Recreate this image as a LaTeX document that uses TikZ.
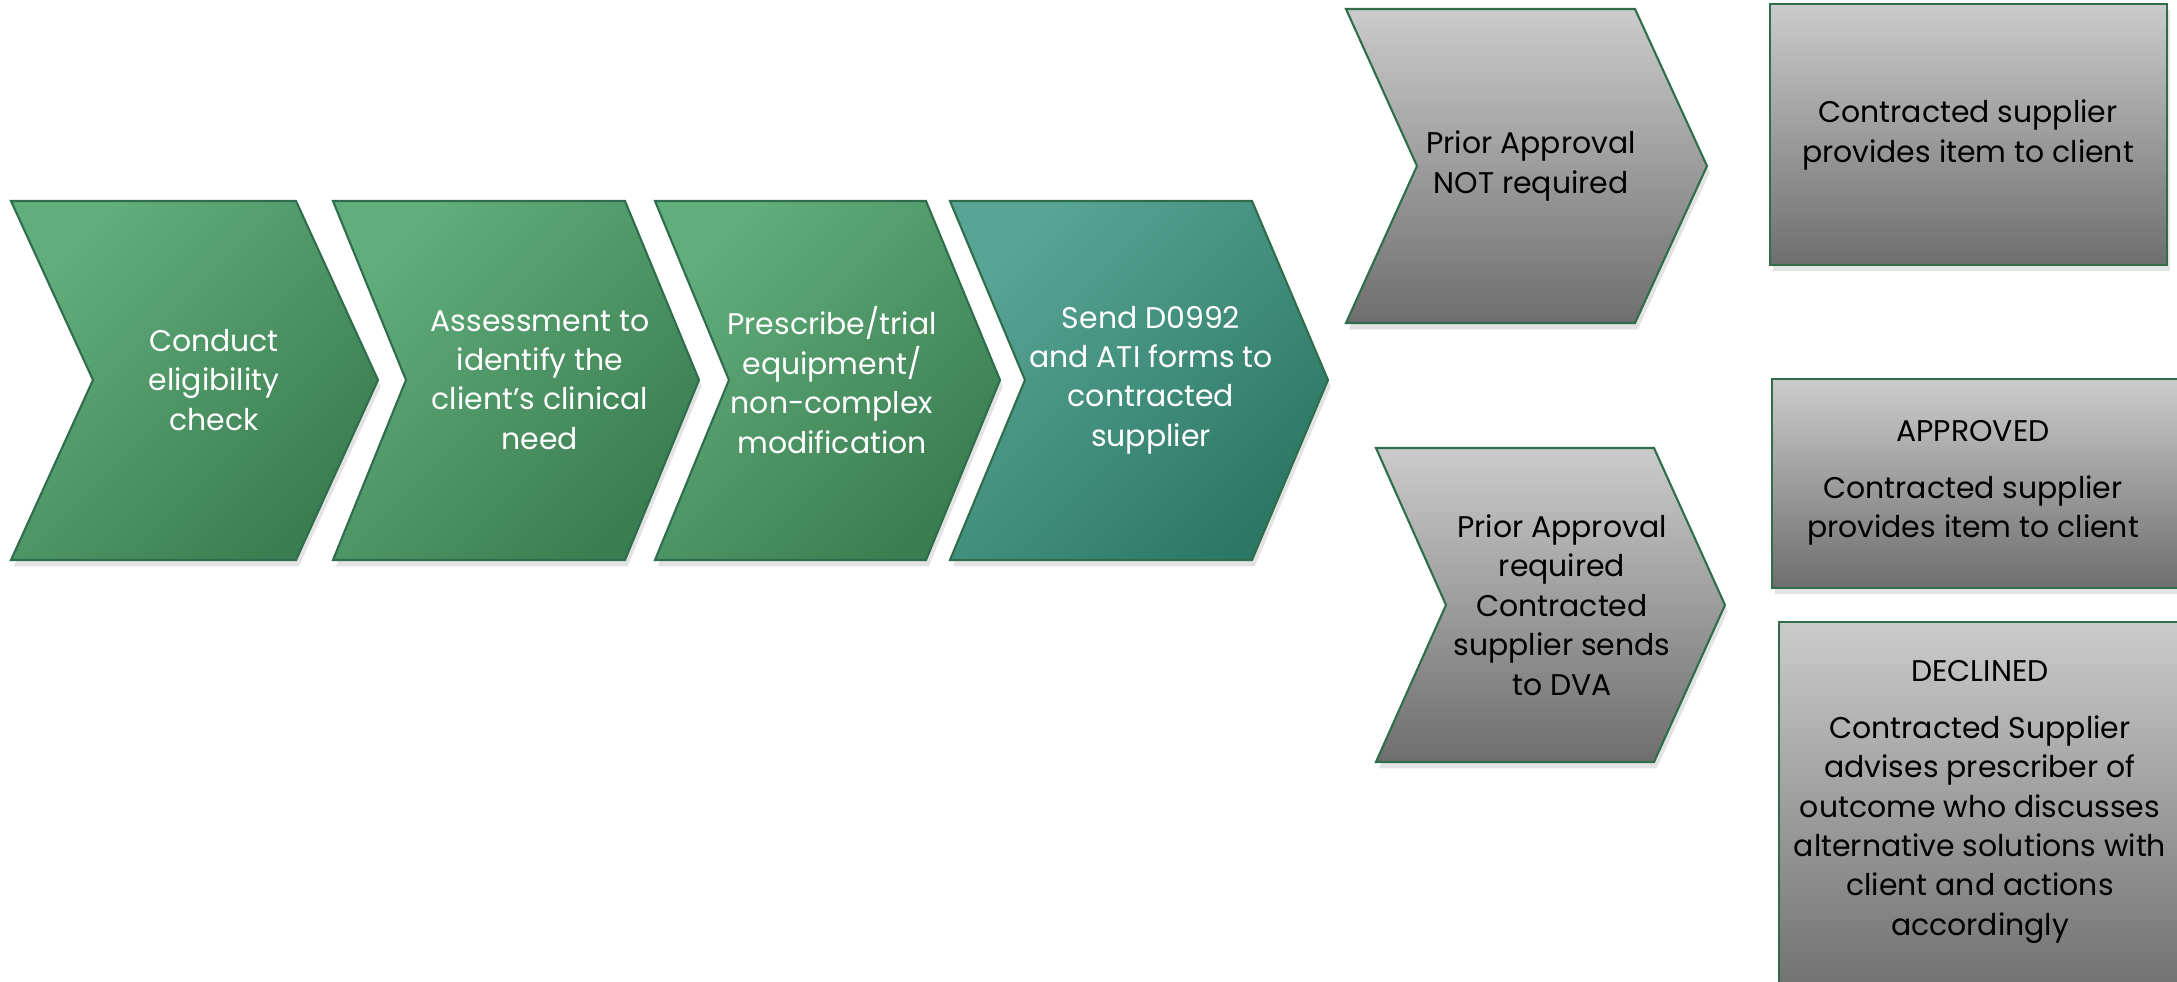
\documentclass[tikz,border=0pt]{standalone}
\usepackage{fontspec}
\setmainfont{Poppins}
\usetikzlibrary{shadows}

\definecolor{greenlight}{HTML}{62AD7C}
\definecolor{greendark}{HTML}{3A7D50}
\definecolor{teallight}{HTML}{58A596}
\definecolor{tealdark}{HTML}{2D7864}
\definecolor{greylight}{HTML}{CBCBCB}
\definecolor{greydark}{HTML}{6E6E6E}
\definecolor{edgegreen}{HTML}{2F6D4C}

\begin{document}
\begin{tikzpicture}[x=0.01cm, y=-0.01cm,
  shapebase/.style={draw=edgegreen, line width=0.6pt, drop shadow={shadow xshift=0.8pt, shadow yshift=-1.8pt, opacity=0.22}},
  greenchev/.style={shapebase, top color=greenlight, bottom color=greendark, shading angle=45},
  tealchev/.style={shapebase, top color=teallight, bottom color=tealdark, shading angle=45},
  greyshape/.style={shapebase, top color=greylight, bottom color=greydark},
  chevtext/.style={align=center, inner sep=0pt, font=\fontsize{8.5}{11.2}\selectfont},
  whitetext/.style={chevtext, text=white},
  darktext/.style={chevtext, text=black}]
\useasboundingbox (0,0) rectangle (2177,982);
% main flow
\path [greenchev] (11,201) -- (296,201) -- (378,380) -- (296,560) -- (11,560) -- (93,380) -- cycle;
\path [greenchev] (333,201) -- (625,201) -- (699,380) -- (625,560) -- (333,560) -- (406,380) -- cycle;
\path [greenchev] (655,201) -- (926,201) -- (1000,380) -- (926,560) -- (655,560) -- (729,380) -- cycle;
\path [tealchev] (950,201) -- (1252,201) -- (1328,380) -- (1252,560) -- (950,560) -- (1025,380) -- cycle;
\node [whitetext] (elig) at (214,380) {Conduct\\eligibility\\check};
\node [whitetext] (assess) at (540,380) {Assessment to\\identify the\\client’s clinical\\need};
\node [whitetext] (prescribe) at (832,380) {Prescribe/trial\\equipment/\\non-complex\\modification};
\node [whitetext] (send) at (1151,380) {Send D0992\\and ATI forms to\\contracted\\supplier};
% prior approval branches
\path [greyshape] (1346,9) -- (1635,9) -- (1707,166) -- (1635,323) -- (1346,323) -- (1417,166) -- cycle;
\path [greyshape] (1376,448) -- (1654,448) -- (1725,605) -- (1654,762) -- (1376,762) -- (1446,605) -- cycle;
\node [darktext] (notreq) at (1531,166) {Prior Approval\\NOT required};
\node [darktext] (req) at (1562,605) {Prior Approval\\required\\Contracted\\supplier sends\\to DVA};
% outcomes
\path [greyshape] (1770,4) rectangle (2167,265);
\path [greyshape] (1772,379) rectangle (2190,588);
\path [greyshape] (1779,622) rectangle (2190,1000);
\node [darktext] (provide) at (1968,135) {Contracted supplier\\provides item to client};
\node [darktext] (approved) at (1973,483) {APPROVED\\[0.17cm]Contracted supplier\\provides item to client};
\node [darktext] (declined) at (1980,802) {DECLINED\\[0.17cm]Contracted Supplier\\advises prescriber of\\outcome who discusses\\alternative solutions with\\client and actions\\accordingly};
\end{tikzpicture}
\end{document}
